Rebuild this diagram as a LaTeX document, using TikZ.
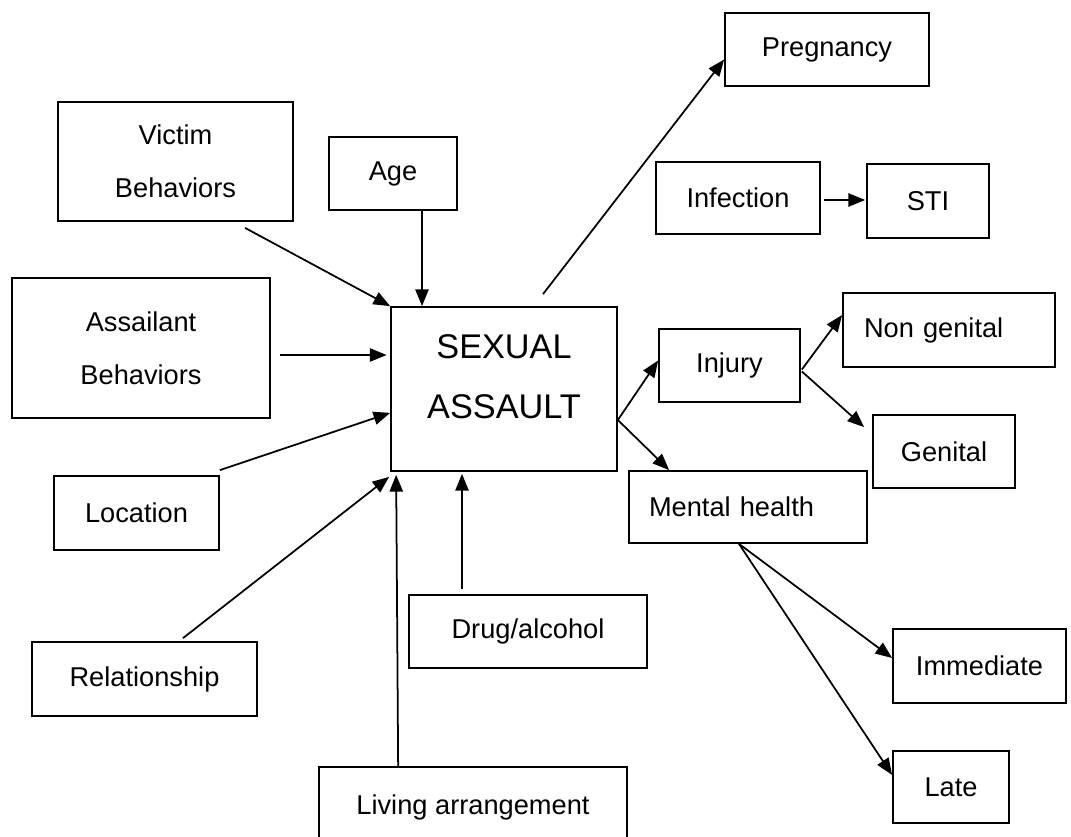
\documentclass[tikz,border=0pt]{standalone}
\usepackage{fontspec}
\setmainfont{Liberation Sans}
\usetikzlibrary{arrows.meta,calc}

\begin{document}
\begin{tikzpicture}[x=0.02cm,y=-0.02cm,
  every node/.style={font=\fontsize{15.5}{30}\selectfont},
  box/.style={draw,line width=1pt,inner sep=0pt,align=center},
  arr/.style={-{Triangle[length=9.5pt,width=7.5pt]},line width=1pt}]
\useasboundingbox (0,0) rectangle (1071,837);
% boxes
\node[box,minimum width=4.70cm,minimum height=2.38cm] (vict) at (175.5,161.5) {Victim\\Behaviors};
\node[box,minimum width=2.56cm,minimum height=1.46cm] (age) at (393,173.5) {Age};
\node[box,minimum width=4.08cm,minimum height=1.46cm] (preg) at (827,49.5) {Pregnancy};
\node[box,minimum width=3.28cm,minimum height=1.44cm] (infect) at (738,198) {Infection};
\node[box,minimum width=2.44cm,minimum height=1.48cm] (sti) at (928,201) {STI};
\node[box,minimum width=5.16cm,minimum height=2.80cm] (assail) at (141,348) {Assailant\\Behaviors};
\node[box,minimum width=4.52cm,minimum height=3.28cm,
  label={[name=satext,align=center,yshift=0.24cm,font=\fontsize{19.5}{34}\selectfont]center:{SEXUAL\\ASSAULT}}] (sa) at (504,389) {};
\node[box,minimum width=2.82cm,minimum height=1.46cm] (injury) at (729.5,365.5) {Injury};
\node[box,minimum width=4.24cm,minimum height=1.48cm,text width=3.40cm,align=left] (nongen) at (949,330) {Non genital};
\node[box,minimum width=2.84cm,minimum height=1.46cm] (genital) at (944,451.5) {Genital};
\node[box,minimum width=4.76cm,minimum height=1.44cm,text width=3.96cm,align=left] (mental) at (748,507) {Mental health};
\node[box,minimum width=3.30cm,minimum height=1.48cm] (loc) at (136.5,513) {Location};
\node[box,minimum width=4.76cm,minimum height=1.46cm] (drug) at (528,631.5) {Drug/alcohol};
\node[box,minimum width=4.50cm,minimum height=1.48cm] (rel) at (144.5,679) {Relationship};
\node[box,minimum width=3.46cm,minimum height=1.48cm] (immed) at (979.5,666) {Immediate};
\node[box,minimum width=2.32cm,minimum height=1.44cm] (late) at (951,787) {Late};
\node[box,minimum width=6.16cm,minimum height=1.60cm] (living) at (473,807) {Living arrangement};
% into the centre
\coordinate (agefoot) at ($(age.south)+(29,0)$);
\coordinate (asfoot) at ($(assail.east)+(9,7)$);
\coordinate (livtop) at ($(living.north west)+(80,0)$);
\coordinate (drugtop) at ($(drug.north)+(-66,-5)$);
\draw[arr] ($(vict.south)+(69.5,6)$) -- (sa.north west);
\draw[arr] (agefoot) -- (agefoot |- sa.north);
\draw[arr,shorten >=2pt] (asfoot) -- (asfoot -| sa.west);
\draw[arr] ($(loc.north east)+(0,-5)$) -- ($(sa.south west)+(0,-59)$);
\draw[arr] ($(rel.north)+(38.5,-3)$) -- ($(sa.south west)+(-1,5)$);
\draw[arr] (livtop) -- ($(sa.south west)+(6,3)$);
\draw[arr] (drugtop) -- ($(drugtop |- sa.south)+(0,2)$);
% out of the centre
\draw[arr] ($(sa.north)+(39,-12)$) -- ($(preg.west)+(0,10)$);
\draw[arr] ($(infect.east)+(3,2)$) -- ($(sti.west)+(-1,-1)$);
\draw[arr] ($(sa.east)+(0,31)$) -- ($(injury.west)+(0,-5)$);
\draw[arr] ($(sa.east)+(0,31)$) -- ($(mental.north west)+(41,0)$);
\draw[arr] ($(injury.east)+(1,4)$) -- ($(nongen.west)+(0,-15)$);
\draw[arr] ($(injury.east)+(1,6)$) -- ($(genital.north west)+(-8,13)$);
\draw[arr] ($(mental.south)+(-9,0)$) -- ($(immed.west)+(0,-8)$);
\draw[arr] ($(mental.south)+(-9,0)$) -- ($(late.west)+(0,-12)$);
\end{tikzpicture}
\end{document}
